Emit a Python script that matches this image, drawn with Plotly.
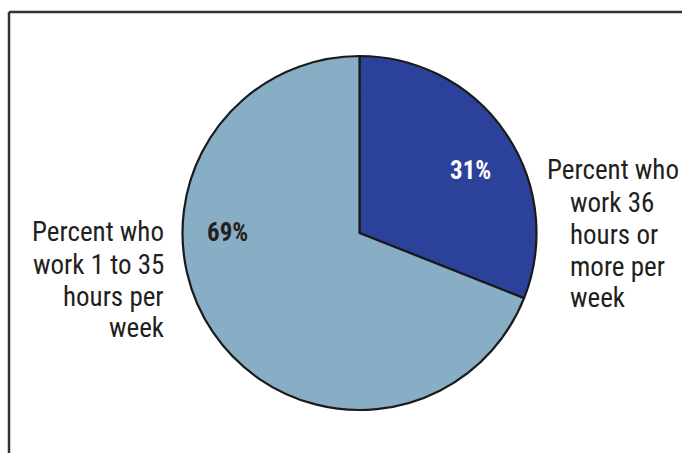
import plotly.graph_objects as go

labels = ["Percent who work 36 hours or more per week", "Percent who work 1 to 35 hours per week"]
values = [31, 69]
colors = ["#2B419A", "#87AEC4"]
pct_text_colors = ["#FFFFFF", "#231F20"]
right_label_lines = ["Percent who", "work 36", "hours or", "more per", "week"]
left_label_lines = ["Percent who", "work 1 to 35", "hours per", "week"]

W, H = 682, 453
FONT = "Liberation Sans Narrow, Roboto Condensed, Arial Narrow, sans-serif"
TXT = "#231F20"

fig = go.Figure(go.Pie(
    labels=labels, values=values, sort=False, direction="clockwise", rotation=0,
    marker=dict(colors=colors, line=dict(color="#1a1a1a", width=2.2)),
    textinfo="none", hoverinfo="label+percent", showlegend=False,
    domain=dict(x=[182 / W, 537 / W], y=[(H - 410) / H, (H - 56) / H]),
))

def px(x):
    return x / W

def py(y):
    return 1 - y / H

ann = []
# percentage labels
ann.append(dict(x=px(470), y=py(171), text=f"<b>{values[0]}%</b>", font=dict(color=pct_text_colors[0], size=25, family=FONT)))
ann.append(dict(x=px(227), y=py(233), text=f"<b>{values[1]}%</b>", font=dict(color=pct_text_colors[1], size=25, family=FONT)))
# right label lines
right_y = [170, 203, 235, 267, 298]
right_x = [545, 568, 568, 568, 568]
for t, x, y in zip(right_label_lines, right_x, right_y):
    ann.append(dict(x=px(x), y=py(y), text=t, xanchor="left", align="left",
                    font=dict(color=TXT, size=27, family=FONT)))
# left label lines
left_y = [232, 265, 297, 328]
for t, y in zip(left_label_lines, left_y):
    ann.append(dict(x=px(166), y=py(y), text=t, xanchor="right", align="right",
                    font=dict(color=TXT, size=27, family=FONT)))
for a in ann:
    a.update(xref="paper", yref="paper", showarrow=False)
    a.setdefault("xanchor", "center")
    a.setdefault("yanchor", "middle")

shapes = [
    dict(type="line", xref="paper", yref="paper", x0=px(9), x1=px(700), y0=py(12), y1=py(12),
         line=dict(color="#333333", width=2.5)),
    dict(type="line", xref="paper", yref="paper", x0=px(9), x1=px(9), y0=py(12), y1=py(470),
         line=dict(color="#333333", width=2.5)),
]

fig.update_layout(
    width=W, height=H, margin=dict(l=0, r=0, t=0, b=0),
    paper_bgcolor="white", plot_bgcolor="white",
    annotations=ann, shapes=shapes,
)
fig.write_html("out.html", config={"displayModeBar": False},
               post_script="document.body.style.margin='0';document.body.style.overflow='hidden';")
